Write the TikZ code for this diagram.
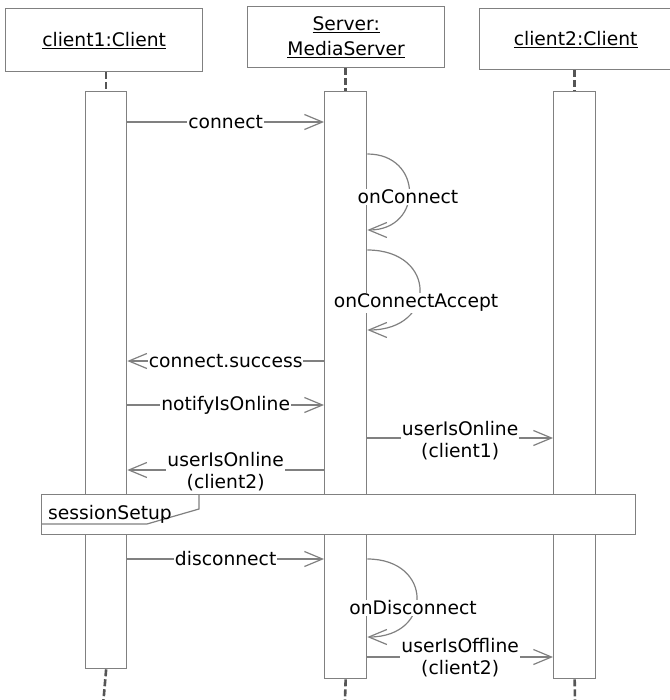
\documentclass[tikz,border=0pt]{standalone}
\usepackage{fontspec}
\setmainfont{DejaVu Sans}
\usetikzlibrary{arrows.meta}
\definecolor{edge}{RGB}{128,128,128}
\definecolor{life}{RGB}{85,85,85}
\tikzset{
  txt/.style={font=\fontsize{18.7}{22}\selectfont, text=black},
  head/.style={draw=edge, line width=1.3pt, fill=white, inner sep=0pt, txt, align=center, anchor=north west},
  bar/.style={draw=edge, line width=1.3pt, fill=white, inner sep=0pt, anchor=north west},
  lifeline/.style={draw=life, line width=2.6pt, dash pattern=on 7pt off 3pt},
  msg/.style={draw=edge, line width=1.2pt, -{Straight Barb[length=18pt,width=15pt,line width=1.2pt]}},
  lbl/.style={txt, fill=white, inner sep=1pt, align=center},
}
\begin{document}
\begin{tikzpicture}[x=1pt, y=-1pt]
\useasboundingbox (0,0) rectangle (669,700);

% participant heads
\node[head, minimum width=197pt, minimum height=63pt] (h1) at (5,8) {\underline{client1:Client}};
\node[head, minimum width=197pt, minimum height=61pt] (hs) at (247,6) {\underline{Server:}\\[3pt]\underline{MediaServer}};
\node[head, minimum width=192pt, minimum height=61pt] (h2) at (479,8) {\underline{client2:Client}};

% lifeline ends
\coordinate (e1) at (103.5,700);
\coordinate (es) at (345,700);
\coordinate (e2) at (575,700);

% activation bars
\node[bar, minimum width=41pt, minimum height=577pt] (b1) at (85,91) {};
\node[bar, minimum width=42pt, minimum height=587pt] (bs) at (324,91) {};
\node[bar, minimum width=42pt, minimum height=587pt] (b2) at (553,91) {};

\draw[lifeline] (h1.south -| b1.north) -- (b1.north);
\draw[lifeline] (hs.south -| bs.north) -- (bs.north);
\draw[lifeline] (h2.south -| b2.north) -- (b2.north);
\draw[lifeline] (b1.south) -- (e1);
\draw[lifeline] (bs.south) -- (es);
\draw[lifeline] (b2.south) -- (e2);

% message rows
\coordinate (r1) at (0,122);
\coordinate (s1) at (0,154);
\coordinate (t1) at (0,230);
\coordinate (s2) at (0,250);
\coordinate (t2) at (0,330);
\coordinate (r2) at (0,361);
\coordinate (r3) at (0,405);
\coordinate (r4) at (0,438);
\coordinate (r5) at (0,470);
\coordinate (r6) at (0,559);
\coordinate (s3) at (0,559);
\coordinate (t3) at (0,637);
\coordinate (r7) at (0,657);

\draw[msg] (b1.east |- r1) -- node[lbl] (m1) {connect} (bs.west |- r1);

% self calls
\draw[msg] (bs.east |- s1) .. controls ++(56,0) and ([xshift=56pt]bs.east |- t1) .. (bs.east |- t1);
\node[lbl] (m2) at (408,197) {onConnect};
\draw[msg] (bs.east |- s2) .. controls ++(70,0) and ([xshift=70pt]bs.east |- t2) .. (bs.east |- t2);
\node[lbl] (m3) at (416,303) {onConnectAccept};

\draw[msg] (bs.west |- r2) -- node[lbl] (m4) {connect.success} (b1.east |- r2);
\draw[msg] (b1.east |- r3) -- node[lbl] (m5) {notifyIsOnline} (bs.west |- r3);
\draw[msg] (bs.east |- r4) -- node[lbl, yshift=-3pt] (m6) {userIsOnline\\(client1)} (b2.west |- r4);
\draw[msg] (bs.west |- r5) -- node[lbl, yshift=-1.5pt] (m7) {userIsOnline\\(client2)} (b1.east |- r5);

% combined fragment
\node[draw=edge, line width=1.3pt, fill=white, minimum width=594pt, minimum height=40pt, inner sep=0pt, anchor=north west] (frag) at (41,494) {};
\coordinate (tabA) at (199,509);
\coordinate (tabB) at (147,524);
\draw[edge, line width=1.2pt] (frag.north west -| tabA) -- (tabA) -- (tabB) -- (tabB -| frag.west);
\node[txt, inner sep=0pt, anchor=base west] (fragt) at (48,519) {sessionSetup};

\draw[msg] (b1.east |- r6) -- node[lbl] (m8) {disconnect} (bs.west |- r6);
\draw[msg] (bs.east |- s3) .. controls ++(66,0) and ([xshift=66pt]bs.east |- t3) .. (bs.east |- t3);
\node[lbl] (m9) at (413,608) {onDisconnect};
\draw[msg] (bs.east |- r7) -- node[lbl, yshift=-0.5pt] (m10) {userIsOffline\\(client2)} (b2.west |- r7);
\end{tikzpicture}
\end{document}
